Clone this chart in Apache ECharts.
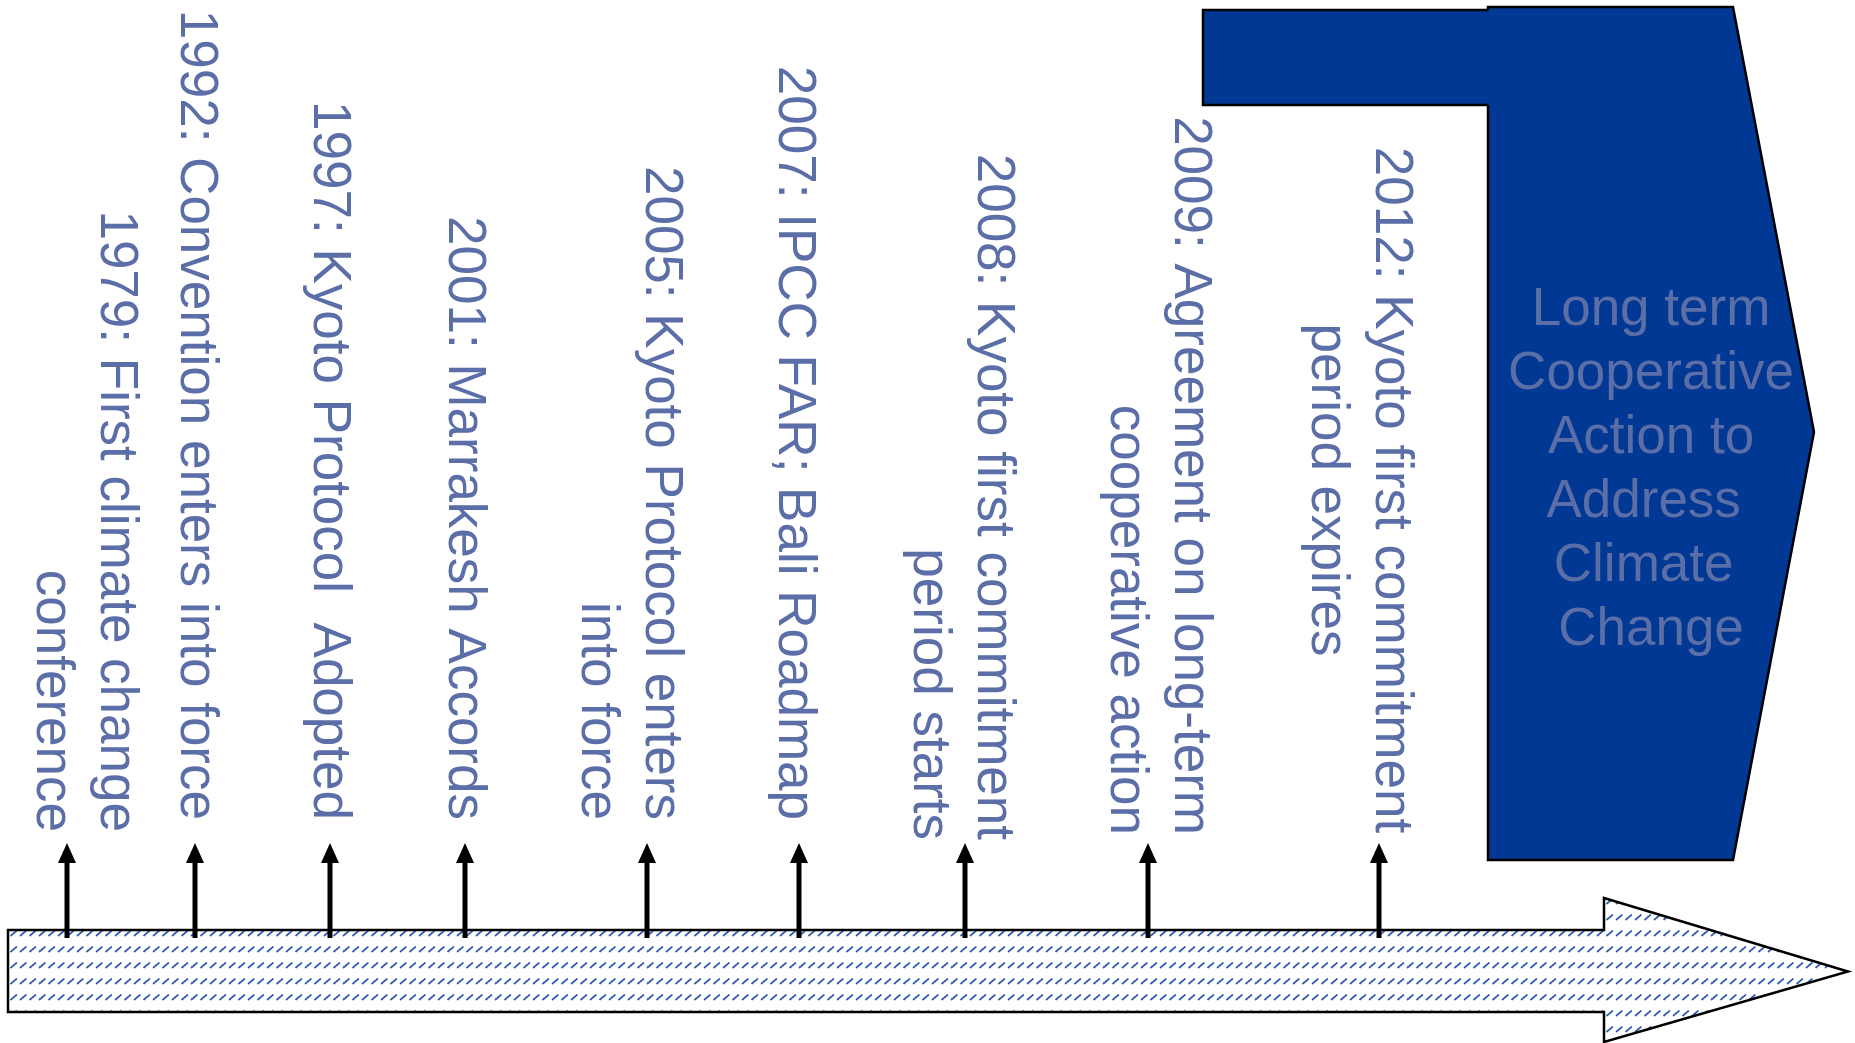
<!DOCTYPE html>
<html>
<head>
<meta charset="utf-8">
<title>Climate negotiation timeline</title>
<script src="https://cdn.jsdelivr.net/npm/echarts@6/dist/echarts.min.js"></script>
<style>
  html, body { margin: 0; padding: 0; background: #ffffff; }
  #chart { width: 1855px; height: 1043px; }
</style>
</head>
<body>
<div id="chart"></div>
<script>
// ---- Milestones on the timeline ----
const years = ['1979', '1992', '1997', '2001', '2005', '2007', '2008', '2009', '2012'];
const milestones = [
  'First climate change\nconference',
  'Convention enters into force',
  'Kyoto Protocol  Adopted',
  'Marrakesh Accords',
  'Kyoto Protocol enters\ninto force',
  'IPCC FAR; Bali Roadmap',
  'Kyoto first commitment\nperiod starts',
  'Agreement on long-term\ncooperative action',
  'Kyoto first commitment\nperiod expires'
];
// where each milestone sits along the strip (layout units)
const milestonePos = [67, 195, 330, 465, 647, 799, 965, 1148, 1379];

// ---- Goal panel ----
const goalLines = ['Long term', 'Cooperative', 'Action to', 'Address ', 'Climate ', 'Change'];

// ---- Layout and styling ----
const FONT = '53px "Liberation Sans", Arial, sans-serif';
const TEXT_COLOR = '#5b6ea7';
const GOAL_FILL = '#003893';
const LINE_H = 64;
const LABEL = {
  // offset of the first text line's centre from its arrow
  shift: [48.5, 0.5, -1.5, -1.5, 13.5, -5.5, 27.5, 41.5, 11.5],
  // where the text block ends (right/centre aligned along the reading direction)
  end: [832, 820, 820, 820, 820, 820, 840, 835, 490],
  align: ['right', 'right', 'right', 'right', 'right', 'right', 'right', 'right', 'center']
};
const ARROW = { tip: 843, headLen: 20, headHalf: 9, shaft: 5, foot: 938 };
const STRIP = { left: 8, top: 930, bottom: 1012, neck: 1604, headTop: 898, headBottom: 1042, tip: 1848 };
const GOAL = {
  bodyLeft: 1488, top: 7, right: 1733, point: 1814, pointY: 432, bottom: 860,
  tabLeft: 1203, tabTop: 10, tabBottom: 105,
  textX: 1651, textY: 470
};

// short diagonal dotted dashes used as the strip texture
function makeHatch() {
  const c = document.createElement('canvas');
  c.width = 19; c.height = 32;
  const g = c.getContext('2d');
  g.strokeStyle = '#2c58b0';
  g.lineWidth = 1.7;
  g.lineCap = 'round';
  g.setLineDash([1.6, 1.1]);
  for (let r = 0; r < 2; r++) {
    for (let k = 0; k < 2; k++) {
      const x0 = k * 9.5 + 1.5, y0 = r * 16 + 5;
      g.beginPath();
      g.moveTo(x0, y0 + 2.5);
      g.lineTo(x0 + 6, y0 - 2.5);
      g.stroke();
    }
  }
  return c;
}
const hatch = makeHatch();

const chart = echarts.init(document.getElementById('chart'), null, { renderer: 'canvas' });

const option = {
  animation: false,
  backgroundColor: '#ffffff',
  grid: { left: 0, right: 0, top: 0, bottom: 0 },
  xAxis: { type: 'value', min: 0, max: 1855, show: false },
  yAxis: { type: 'value', min: 0, max: 1043, inverse: true, show: false },
  series: [
    {
      // timeline strip
      type: 'custom',
      silent: true,
      z: 1,
      data: [[0, 0]],
      renderItem: function (params, api) {
        const p = (x, y) => api.coord([x, y]);
        const pts = [
          p(STRIP.left, STRIP.top), p(STRIP.neck, STRIP.top), p(STRIP.neck, STRIP.headTop),
          p(STRIP.tip, (STRIP.top + STRIP.bottom) / 2 + 0.5), p(STRIP.neck, STRIP.headBottom),
          p(STRIP.neck, STRIP.bottom), p(STRIP.left, STRIP.bottom)
        ];
        return {
          type: 'polygon',
          shape: { points: pts },
          style: {
            fill: { image: hatch, repeat: 'repeat' },
            stroke: '#000000',
            lineWidth: 2.5,
            lineJoin: 'miter'
          }
        };
      }
    },
    {
      // goal panel
      type: 'custom',
      silent: true,
      z: 2,
      data: [[0, 0]],
      renderItem: function (params, api) {
        const p = (x, y) => api.coord([x, y]);
        const body = [
          p(GOAL.bodyLeft, GOAL.top), p(GOAL.right, GOAL.top), p(GOAL.point, GOAL.pointY),
          p(GOAL.right, GOAL.bottom), p(GOAL.bodyLeft, GOAL.bottom)
        ];
        const tl = p(GOAL.tabLeft, GOAL.tabTop);
        const br = p(GOAL.bodyLeft + 30, GOAL.tabBottom);
        const border = [
          p(GOAL.bodyLeft, GOAL.tabTop), p(GOAL.tabLeft, GOAL.tabTop),
          p(GOAL.tabLeft, GOAL.tabBottom), p(GOAL.bodyLeft, GOAL.tabBottom)
        ];
        const tp = p(GOAL.textX, GOAL.textY);
        return {
          type: 'group',
          children: [
            { type: 'polygon', shape: { points: body },
              style: { fill: GOAL_FILL, stroke: '#000000', lineWidth: 2.5 } },
            { type: 'rect', shape: { x: tl[0], y: tl[1], width: br[0] - tl[0], height: br[1] - tl[1] },
              style: { fill: GOAL_FILL } },
            { type: 'polyline', shape: { points: border },
              style: { fill: null, stroke: '#000000', lineWidth: 2.5 } },
            { type: 'text', x: tp[0], y: tp[1],
              style: {
                text: goalLines.join('\n'), font: FONT, fill: TEXT_COLOR,
                align: 'center', verticalAlign: 'middle', lineHeight: LINE_H
              } }
          ]
        };
      }
    },
    {
      // milestone arrows and labels
      type: 'custom',
      silent: true,
      z: 3,
      data: milestonePos.map((pos, i) => [pos, i]),
      renderItem: function (params, api) {
        const i = api.value(1);
        const x = api.coord([api.value(0), 0])[0];
        const tipY = api.coord([0, ARROW.tip])[1];
        const footY = api.coord([0, ARROW.foot])[1];
        const neckY = tipY + ARROW.headLen;
        const labelX = x + LABEL.shift[i] + LINE_H / 2;
        const labelY = api.coord([0, LABEL.end[i]])[1];
        return {
          type: 'group',
          children: [
            { type: 'rect',
              shape: { x: x - ARROW.shaft / 2, y: neckY - 1, width: ARROW.shaft, height: footY - neckY + 1 },
              style: { fill: '#000000' } },
            { type: 'polygon',
              shape: { points: [[x, tipY], [x - ARROW.headHalf, neckY], [x + ARROW.headHalf, neckY]] },
              style: { fill: '#000000' } },
            { type: 'text', x: labelX, y: labelY, rotation: -Math.PI / 2,
              style: {
                text: years[i] + ': ' + milestones[i],
                font: FONT, fill: TEXT_COLOR,
                align: LABEL.align[i], verticalAlign: 'top', lineHeight: LINE_H
              } }
          ]
        };
      }
    }
  ]
};

chart.setOption(option);
</script>
</body>
</html>
